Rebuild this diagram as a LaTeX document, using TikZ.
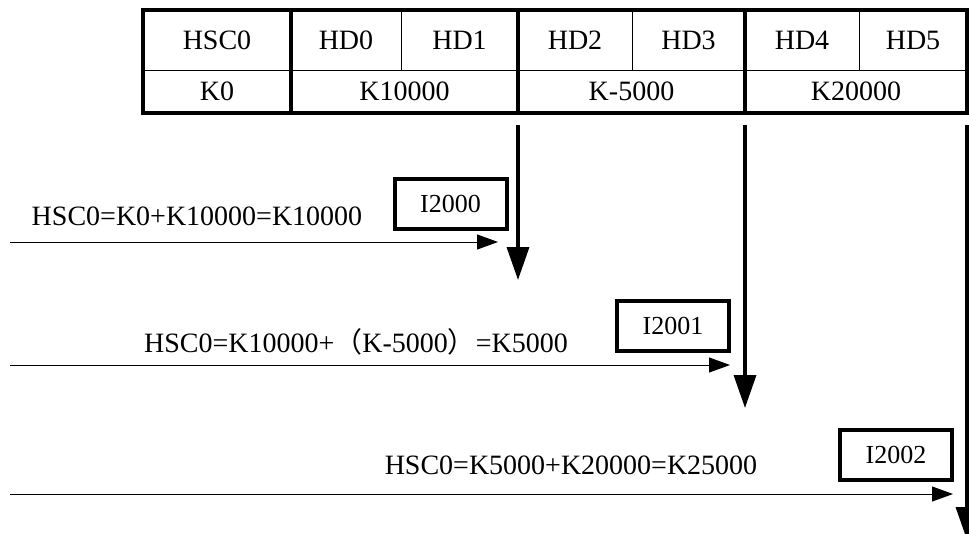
\documentclass[tikz,border=0pt]{standalone}
\usepackage{fontspec}
\setmainfont{Liberation Serif}
\newfontfamily\cjk{Noto Sans CJK SC}
\usetikzlibrary{arrows.meta}
\begin{document}
\begin{tikzpicture}[x=1pt,y=-1pt,
  cell/.style={font=\fontsize{28}{30}\selectfont, inner sep=0pt},
  lbl/.style={font=\fontsize{28}{30}\selectfont, inner sep=0pt},
  ibox/.style={draw, line width=4pt, minimum width=112pt, minimum height=50pt,
    font=\fontsize{26}{28}\selectfont, inner sep=0pt},
  thickrule/.style={line width=3.5pt},
  thinrule/.style={line width=1pt},
  vflow/.style={line width=3.5pt, -{Triangle[length=33pt,width=22pt]}},
  hflow/.style={line width=1pt, -{Triangle[length=21pt,width=15pt]}}]
\useasboundingbox (0,0) rectangle (969,533);
\clip (0,0) rectangle (969,533);

% table rules
\draw[thinrule] (143,70) -- (967,70);
\draw[thinrule] (401,10) -- (401,70);
\draw[thinrule] (632,10) -- (632,70);
\draw[thinrule] (859,10) -- (859,70);
\draw[thickrule] (291,10) -- (291,113);
\draw[thickrule] (518,10) -- (518,113);
\draw[thickrule] (745,10) -- (745,113);
\draw[thickrule] (143,10) rectangle (967,113);

% table cells
\node[cell] (hsc) at (217,40) {HSC0};
\node[cell] (hd0) at (346,40) {HD0};
\node[cell] (hd1) at (459.5,40) {HD1};
\node[cell] (hd2) at (575,40) {HD2};
\node[cell] (hd3) at (688.5,40) {HD3};
\node[cell] (hd4) at (802,40) {HD4};
\node[cell] (hd5) at (913,40) {HD5};
\node[cell] (k0) at (217,91) {K0};
\node[cell] (k1) at (404.5,91) {K10000};
\node[cell] (k2) at (631.5,91) {K-5000};
\node[cell] (k3) at (856,91) {K20000};

% vertical flows
\coordinate (v1s) at (518,125); \coordinate (v1e) at (518,280);
\coordinate (v2s) at (745,125); \coordinate (v2e) at (745,408);
\coordinate (v3s) at (967,125); \coordinate (v3e) at (967,540);
\draw[vflow] (v1s) -- (v1e);
\draw[vflow] (v2s) -- (v2e);
\draw[vflow] (v3s) -- (v3e);

% horizontal flows
\coordinate (h1s) at (10,242); \coordinate (h1e) at (498,242);
\coordinate (h2s) at (10,365); \coordinate (h2e) at (730,365);
\coordinate (h3s) at (10,494); \coordinate (h3e) at (953,494);
\draw[hflow] (h1s) -- (h1e);
\draw[hflow] (h2s) -- (h2e);
\draw[hflow] (h3s) -- (h3e);

% labels
\node[lbl] (t1) at (197,216) {HSC0=K0+K10000=K10000};
\node[lbl] (t2) at (356,342) {HSC0=K10000+{\cjk （}K-5000{\cjk ）}=K5000};
\node[lbl] (t3) at (571,465) {HSC0=K5000+K20000=K25000};

% interrupt boxes
\node[ibox] (i0) at (450.5,203.5) {I2000};
\node[ibox] (i1) at (673,326) {I2001};
\node[ibox] (i2) at (896,455) {I2002};
\end{tikzpicture}
\end{document}
